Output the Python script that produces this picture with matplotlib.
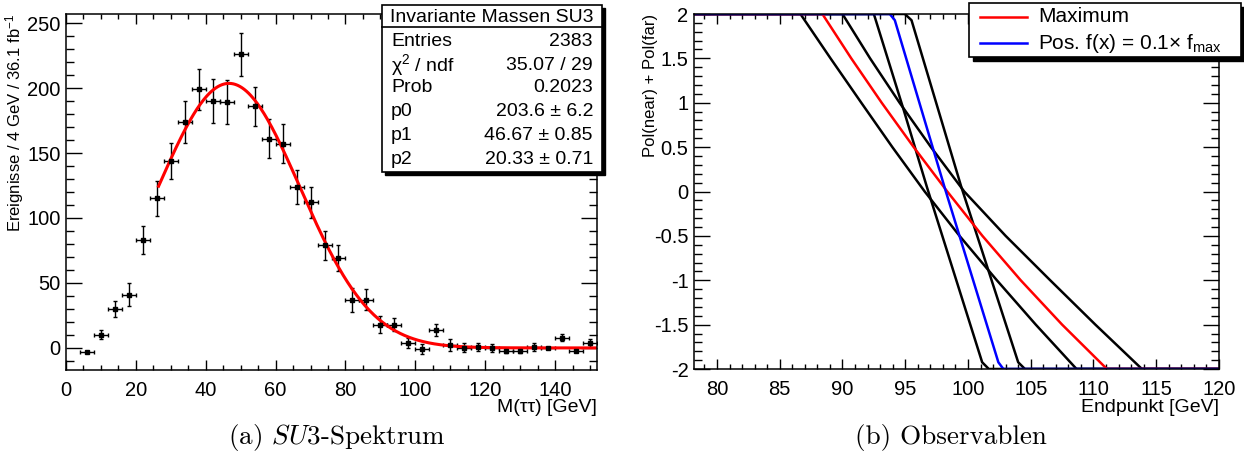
import matplotlib
matplotlib.use('Agg')
import matplotlib.pyplot as plt
from matplotlib.ticker import MultipleLocator, FuncFormatter
from matplotlib.patches import Rectangle
from matplotlib.lines import Line2D
import numpy as np

plt.rcParams['font.family'] = ['Liberation Sans', 'DejaVu Sans']
plt.rcParams['mathtext.fontset'] = 'custom'
plt.rcParams['mathtext.rm'] = 'Liberation Sans'
plt.rcParams['mathtext.it'] = 'Liberation Sans:italic'
plt.rcParams['axes.unicode_minus'] = False

# --- left: invariant mass spectrum (4 GeV bins)
bin_centers = [6, 10, 14, 18, 22, 26, 30, 34, 38, 42, 46, 50, 54, 58, 62, 66, 70, 74, 78,
               82, 86, 90, 94, 98, 102, 106, 110, 114, 118, 122, 126, 130, 134, 138, 142, 146, 150]
counts = [-3, 10, 30, 41, 83, 115, 144, 174, 199, 190, 189, 226, 186, 161, 157, 124, 112, 79, 69,
          37, 37, 18, 18, 4, -1, 14, 2, 0, 1, 0, -2, -2, 1, 0, 8, -2, 4]
count_err = [1, 3.5, 6, 9, 11, 13.5, 14, 16, 16, 17, 17, 16.5, 15, 15, 15, 13, 12, 11, 10,
             9, 8, 6.5, 5, 4, 4, 4.5, 4.5, 3.5, 3, 3, 2, 2, 3, 1, 3, 1, 3]
bin_half = 2.0

# Gaussian fit shown in the stats box
fit_p0, fit_p1, fit_p2 = 203.6, 46.67, 20.33
fit_range = (26.5, 152)

stats_title = 'Invariante Massen SU3'
stats_rows = [('Entries', '2383'),
              ('χ$^{2}$ / ndf', '35.07 / 29'),
              ('Prob', '0.2023'),
              ('p0', '203.6 ± 6.2'),
              ('p1', '46.67 ± 0.85'),
              ('p2', '20.33 ± 0.71')]

# --- right: observable curves (x, y)
curve_y = [2, 2, 1.5, 1, 0.5, 0, -0.5, -1, -1.5, -2, -2]
curve_a_x = [78, 86.65, 89.05, 91.5, 93.975, 96.55, 99.325, 102.3, 105.4, 108.65, 120]
curve_b_x = [78, 90.0, 92.2, 94.55, 97.05, 99.7, 103.0, 106.55, 110.15, 113.86, 120]
curve_c = ([78, 92.5, 94.84, 96.75, 101.13, 101.66, 120], [2, 2, 0.936, 0.04, -1.924, -2, -2])
curve_d = ([78, 94.97, 95.5, 99.45, 104.0, 104.54, 120], [2, 2, 1.93, 0.06, -1.924, -2, -2])
curve_max_x = [78, 88.4, 90.7, 93.125, 95.675, 98.35, 101.15, 104.2, 107.5, 111.07, 120]
curve_pos_x = [78, 93.77, 94.17, 98.15, 102.42, 102.82, 120]
curve_pos_y = [2, 2, 1.93, 0.04, -1.924, -2, -2]

W, H = 1244, 465
fig = plt.figure(figsize=(W / 100, H / 100), dpi=100)


def fx(px):
    return px / W


def fy(py):
    return 1 - py / H


ax1 = fig.add_axes([fx(66), fy(370), fx(597) - fx(66), fy(14) - fy(370)])
ax2 = fig.add_axes([fx(694), fy(369), fx(1219) - fx(694), fy(14) - fy(369)])

# left panel
ax1.errorbar(bin_centers, counts, xerr=bin_half, yerr=count_err, fmt='s', color='black',
             ms=3, elinewidth=1, capsize=1.5, capthick=1)
xs = np.linspace(fit_range[0], fit_range[1], 400)
ax1.plot(xs, fit_p0 * np.exp(-0.5 * ((xs - fit_p1) / fit_p2) ** 2), color='red', lw=2.2)
ax1.set_xlim(0, 152)
ax1.set_ylim(-17, 257)
ax1.xaxis.set_major_locator(MultipleLocator(20))
ax1.xaxis.set_minor_locator(MultipleLocator(5))
ax1.yaxis.set_major_locator(MultipleLocator(50))
ax1.yaxis.set_minor_locator(MultipleLocator(10))

# right panel
kw = dict(lw=1.8, solid_joinstyle='round')
ax2.plot(curve_a_x, curve_y, color='black', **kw)
ax2.plot(curve_b_x, curve_y, color='black', **kw)
ax2.plot(curve_c[0], curve_c[1], color='black', **kw)
ax2.plot(curve_d[0], curve_d[1], color='black', **kw)
ax2.plot(curve_max_x, curve_y, color='red', **kw)
ax2.plot(curve_pos_x, curve_pos_y, color='blue', **kw)
ax2.set_xlim(78.17, 120)
ax2.set_ylim(-2, 2)
ax2.xaxis.set_major_locator(MultipleLocator(5))
ax2.xaxis.set_minor_locator(MultipleLocator(1))
ax2.yaxis.set_major_locator(MultipleLocator(0.5))
ax2.yaxis.set_minor_locator(MultipleLocator(0.1))
ax2.yaxis.set_major_formatter(FuncFormatter(lambda v, p: '%g' % v))

for ax in (ax1, ax2):
    ax.tick_params(which='both', direction='in', top=True, right=True, labelsize=14.5)
    ax.tick_params(axis='y', which='major', length=11.5, width=1, pad=4)
    ax.tick_params(axis='y', which='minor', length=5.8, width=1)
    ax.tick_params(axis='x', which='major', length=7.2, width=1, pad=8)
    ax.tick_params(axis='x', which='minor', length=3.6, width=1)
    for s in ax.spines.values():
        s.set_linewidth(1.1)

# axis titles (ROOT style: right / top aligned)
fig.text(fx(597), fy(412), 'M(ττ) [GeV]', ha='right', va='baseline', fontsize=14)
fig.text(fx(1219), fy(412), 'Endpunkt [GeV]', ha='right', va='baseline', fontsize=14)
fig.text(fx(15), fy(14), 'Ereignisse / 4 GeV / 36.1 fb$^{-1}$', ha='center', va='top',
         rotation=90, fontsize=12)
fig.text(fx(650), fy(14), 'Pol(near) + Pol(far)', ha='center', va='top',
         rotation=90, fontsize=12)

# stats box (left)
bl, br, bt, bb = 382, 602, 5, 172
fig.add_artist(Rectangle((fx(bl + 3), fy(bb + 3)), fx(br) - fx(bl), fy(bt) - fy(bb),
                         transform=fig.transFigure, facecolor='black', edgecolor='black', zorder=5))
fig.add_artist(Rectangle((fx(bl), fy(bb)), fx(br) - fx(bl), fy(bt) - fy(bb),
                         transform=fig.transFigure, facecolor='white', edgecolor='black', lw=1.2, zorder=6))
fig.add_artist(Line2D([fx(bl), fx(br)], [fy(27), fy(27)], transform=fig.transFigure,
                      color='black', lw=1.2, zorder=7))
fig.text(fx((bl + br) / 2), fy(17), stats_title, ha='center', va='center', fontsize=14, zorder=8)
row_y = [42, 65, 88, 112, 135, 159]
for (name, val), ry in zip(stats_rows, row_y):
    fig.text(fx(391), fy(ry), name, ha='left', va='center', fontsize=14, zorder=8)
    fig.text(fx(593), fy(ry), val, ha='right', va='center', fontsize=14, zorder=8)

# legend (right)
ll, lr, lt, lb = 969, 1241, 3, 57
fig.add_artist(Rectangle((fx(ll + 4), fy(lb + 4)), fx(lr) - fx(ll), fy(lt) - fy(lb),
                         transform=fig.transFigure, facecolor='black', edgecolor='black', zorder=5))
fig.add_artist(Rectangle((fx(ll), fy(lb)), fx(lr) - fx(ll), fy(lt) - fy(lb),
                         transform=fig.transFigure, facecolor='white', edgecolor='black', lw=1.2, zorder=6))
legend_items = [('red', 'Maximum', 17), ('blue', 'Pos. f(x) = 0.1× f$_{\\rm max}$', 43)]
for col, lab, ly in legend_items:
    fig.add_artist(Line2D([fx(980), fx(1027)], [fy(ly), fy(ly)], transform=fig.transFigure,
                          color=col, lw=1.8, zorder=7))
    fig.text(fx(1038), fy(ly), lab, ha='left', va='center', fontsize=15, zorder=8)

# captions
fig.text(fx(337), fy(437), '(a) $SU$3-Spektrum', ha='center', va='center', fontsize=19.5,
         family='cmr10', math_fontfamily='cm')
fig.text(fx(951), fy(437), '(b) Observablen', ha='center', va='center', fontsize=19.5,
         family='cmr10', math_fontfamily='cm')

fig.savefig('out.png', dpi=100)
